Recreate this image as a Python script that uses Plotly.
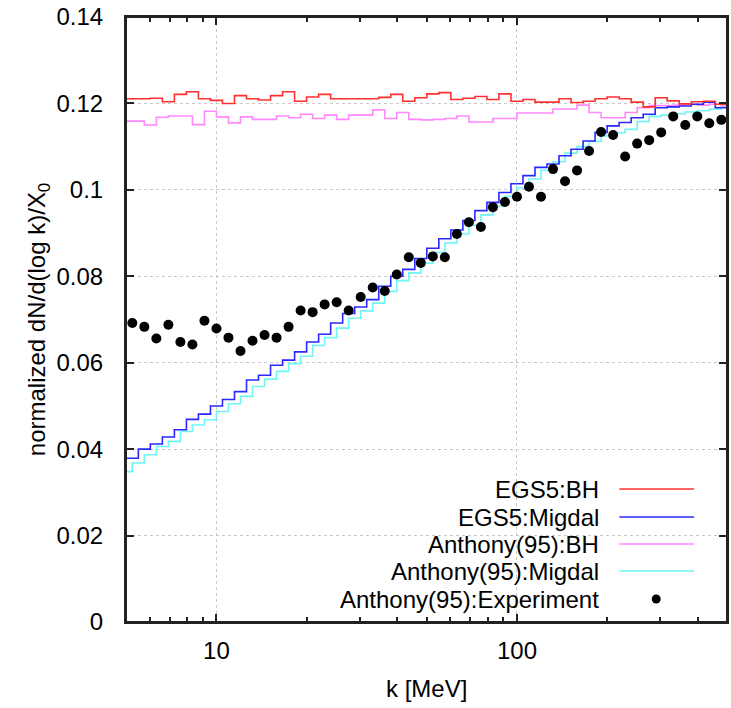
import plotly.graph_objects as go

# ---------------- data ----------------
# EGS5 histograms: 50 log bins, 25 per decade, from 10^0.70 to 10^2.70 MeV
egs5_log_edge_start = 0.70
bins_per_decade = 25
egs5_bh = [0.1211, 0.1211, 0.1212, 0.1204, 0.1221, 0.1227, 0.1211, 0.1207, 0.1200, 0.1218,
           0.1211, 0.1208, 0.1218, 0.1227, 0.1205, 0.1215, 0.1221, 0.1211, 0.1211, 0.1211,
           0.1211, 0.1214, 0.1221, 0.1205, 0.1213, 0.1222, 0.1225, 0.1209, 0.1212, 0.1216,
           0.1209, 0.1222, 0.1205, 0.1209, 0.1203, 0.1203, 0.1211, 0.1202, 0.1205, 0.1211,
           0.1215, 0.1211, 0.1203, 0.1192, 0.1213, 0.1206, 0.1199, 0.1204, 0.1205, 0.1198]
egs5_migdal = [0.0379, 0.0400, 0.0412, 0.0428, 0.0445, 0.0469, 0.0481, 0.0500, 0.0515, 0.0533,
               0.0560, 0.0571, 0.0594, 0.0606, 0.0625, 0.0648, 0.0666, 0.0692, 0.0714, 0.0729,
               0.0746, 0.0777, 0.0800, 0.0816, 0.0841, 0.0865, 0.0887, 0.0907, 0.0929, 0.0952,
               0.0971, 0.0994, 0.1014, 0.1033, 0.1052, 0.1060, 0.1079, 0.1094, 0.1113, 0.1133,
               0.1148, 0.1156, 0.1167, 0.1175, 0.1190, 0.1192, 0.1194, 0.1198, 0.1203, 0.1190]

# Anthony(95) histograms: 51 bins of the same width, shifted by half a bin
anthony_log_edge_start = 0.68
anthony_bh = [0.1159, 0.1159, 0.1150, 0.1168, 0.1171, 0.1171, 0.1151, 0.1182, 0.1169, 0.1155,
              0.1169, 0.1163, 0.1163, 0.1171, 0.1167, 0.1175, 0.1165, 0.1173, 0.1163, 0.1173,
              0.1173, 0.1185, 0.1165, 0.1179, 0.1163, 0.1162, 0.1163, 0.1165, 0.1171, 0.1157,
              0.1157, 0.1165, 0.1165, 0.1178, 0.1178, 0.1178, 0.1187, 0.1187, 0.1196, 0.1179,
              0.1167, 0.1167, 0.1179, 0.1190, 0.1195, 0.1195, 0.1196, 0.1198, 0.1196, 0.1198,
              0.1195]
anthony_migdal = [0.0348, 0.0368, 0.0387, 0.0406, 0.0418, 0.0441, 0.0456, 0.0468, 0.0487, 0.0505,
                  0.0522, 0.0545, 0.0562, 0.0580, 0.0598, 0.0615, 0.0640, 0.0658, 0.0680, 0.0703,
                  0.0720, 0.0738, 0.0765, 0.0790, 0.0808, 0.0830, 0.0855, 0.0877, 0.0898, 0.0918,
                  0.0942, 0.0962, 0.0985, 0.1005, 0.1025, 0.1045, 0.1065, 0.1085, 0.1100, 0.1112,
                  0.1125, 0.1132, 0.1140, 0.1158, 0.1170, 0.1173, 0.1176, 0.1180, 0.1183, 0.1187,
                  0.1195]

# Anthony(95) experiment: points at EGS5 bin centres
exp_log_start = 0.72
anthony_exp = [0.0692, 0.0683, 0.0656, 0.0688, 0.0648, 0.0642, 0.0697, 0.0679, 0.0658, 0.0627,
               0.0651, 0.0664, 0.0658, 0.0683, 0.0721, 0.0717, 0.0735, 0.0740, 0.0721, 0.0752,
               0.0774, 0.0766, 0.0804, 0.0844, 0.0831, 0.0846, 0.0844, 0.0898, 0.0925, 0.0914,
               0.0960, 0.0972, 0.0984, 0.1007, 0.0984, 0.1048, 0.1020, 0.1045, 0.1090, 0.1134,
               0.1127, 0.1077, 0.1107, 0.1115, 0.1133, 0.1170, 0.1150, 0.1170, 0.1154, 0.1162]

series_names = ["EGS5:BH", "EGS5:Migdal", "Anthony(95):BH", "Anthony(95):Migdal",
                "Anthony(95):Experiment"]
y_tick_vals = [0, 0.02, 0.04, 0.06, 0.08, 0.10, 0.12, 0.14]
y_tick_text = ["0", "0.02", "0.04", "0.06", "0.08", "0.1", "0.12", "0.14"]
x_major_ticks = [10, 100]
x_minor_ticks = [6, 7, 8, 9, 20, 30, 40, 50, 60, 70, 80, 90, 200, 300, 400]
x_title = "k [MeV]"
y_title = "normalized dN/d(log k)/X<sub>0</sub>"

# ---------------- derived x grids ----------------
step = 1.0 / bins_per_decade
egs5_edges = [10 ** (egs5_log_edge_start + step * i) for i in range(len(egs5_bh) + 1)]
anthony_edges = [10 ** (anthony_log_edge_start + step * i) for i in range(len(anthony_bh) + 1)]
exp_x = [10 ** (exp_log_start + step * i) for i in range(len(anthony_exp))]

colors = ["#ff3030", "#2828ff", "#ff88ff", "#6ff5f5", "#000000"]
FONT = "Liberation Sans, Arial, Helvetica, sans-serif"
FRAME = "#222222"

fig = go.Figure()


def hist_trace(edges, vals, color, name):
    return go.Scatter(x=edges, y=list(vals) + [vals[-1]], mode="lines",
                      line=dict(color=color, width=1.6, shape="hv"),
                      name=name, showlegend=False, hoverinfo="skip")


fig.add_trace(hist_trace(anthony_edges, anthony_migdal, colors[3], series_names[3]))
fig.add_trace(hist_trace(anthony_edges, anthony_bh, colors[2], series_names[2]))
fig.add_trace(hist_trace(egs5_edges, egs5_migdal, colors[1], series_names[1]))
fig.add_trace(hist_trace(egs5_edges, egs5_bh, colors[0], series_names[0]))
fig.add_trace(go.Scatter(x=exp_x, y=anthony_exp, mode="markers",
                         marker=dict(color="black", size=10), name=series_names[4],
                         showlegend=False))

# ---------------- layout ----------------
W, H = 731, 708
PL, PR, PT, PB = 126, 729, 17, 622   # plot area in pixels
L, T, R, B = PL, PT, W - PR, H - PB
pw, ph = PR - PL, PB - PT


def px(x):
    return (x - PL) / pw


def py(y):
    return (PB - y) / ph


axis_common = dict(showline=True, linecolor=FRAME, linewidth=2, mirror="ticks",
                   ticks="inside", tickcolor=FRAME, tickwidth=1.5,
                   tickfont=dict(family=FONT, size=24, color="black"),
                   showgrid=True, gridcolor="#c8c8c8", griddash="dot", gridwidth=1,
                   zeroline=False, ticklabeloverflow="allow")

fig.update_xaxes(type="log", range=[0.69897, 2.69897], tickvals=x_major_ticks,
                 ticktext=[str(v) for v in x_major_ticks], ticklen=8,
                 minor=dict(tickvals=x_minor_ticks, ticks="inside", ticklen=5,
                            tickcolor=FRAME, tickwidth=1.5, showgrid=False),
                 ticklabelstandoff=6, **axis_common)
fig.update_yaxes(range=[0, 0.14], tickvals=y_tick_vals, ticktext=y_tick_text, ticklen=8,
                 title=dict(text=y_title,
                            font=dict(family=FONT, size=24, color="black"), standoff=4),
                 ticklabelstandoff=16, **axis_common)

shapes = []
# opaque key area
shapes.append(dict(type="rect", xref="paper", yref="paper", x0=px(243), x1=px(714),
                   y0=0, y1=py(467), fillcolor="white", line=dict(width=0), layer="between"))
# plot frame
shapes.append(dict(type="rect", xref="paper", yref="paper", x0=0, x1=1, y0=0, y1=1,
                   line=dict(color=FRAME, width=2), fillcolor="rgba(0,0,0,0)", layer="above"))
annotations = [dict(xref="paper", yref="paper", x=px(427), y=py(688), xanchor="center",
                    yanchor="middle", text=x_title, showarrow=False,
                    font=dict(family=FONT, size=24, color="black"))]
rows = [489, 517, 544, 571, 599]
for i, name in enumerate(series_names):
    annotations.append(dict(xref="paper", yref="paper", x=px(603), y=py(rows[i]),
                            xanchor="right", yanchor="middle", text=name, showarrow=False,
                            font=dict(family=FONT, size=24, color="black")))
    if i < 4:
        shapes.append(dict(type="line", xref="paper", yref="paper", x0=px(621), x1=px(696),
                           y0=py(rows[i]), y1=py(rows[i]),
                           line=dict(color=colors[i], width=1.6)))
    else:
        r = 4.5
        shapes.append(dict(type="circle", xref="paper", yref="paper",
                           x0=px(658 - r), x1=px(658 + r), y0=py(rows[i] + r), y1=py(rows[i] - r),
                           fillcolor="black", line=dict(width=0)))

fig.update_layout(width=W, height=H, margin=dict(l=L, r=R, t=T, b=B),
                  plot_bgcolor="white", paper_bgcolor="white", showlegend=False,
                  shapes=shapes, annotations=annotations,
                  font=dict(family=FONT, size=24, color="black"))

# remove the default 8 px page margin so the figure sits at the window origin
fig.write_html("out.html", config={"displayModeBar": False},
               post_script="document.body.style.margin='0';"
                           "document.body.style.overflow='hidden';")
